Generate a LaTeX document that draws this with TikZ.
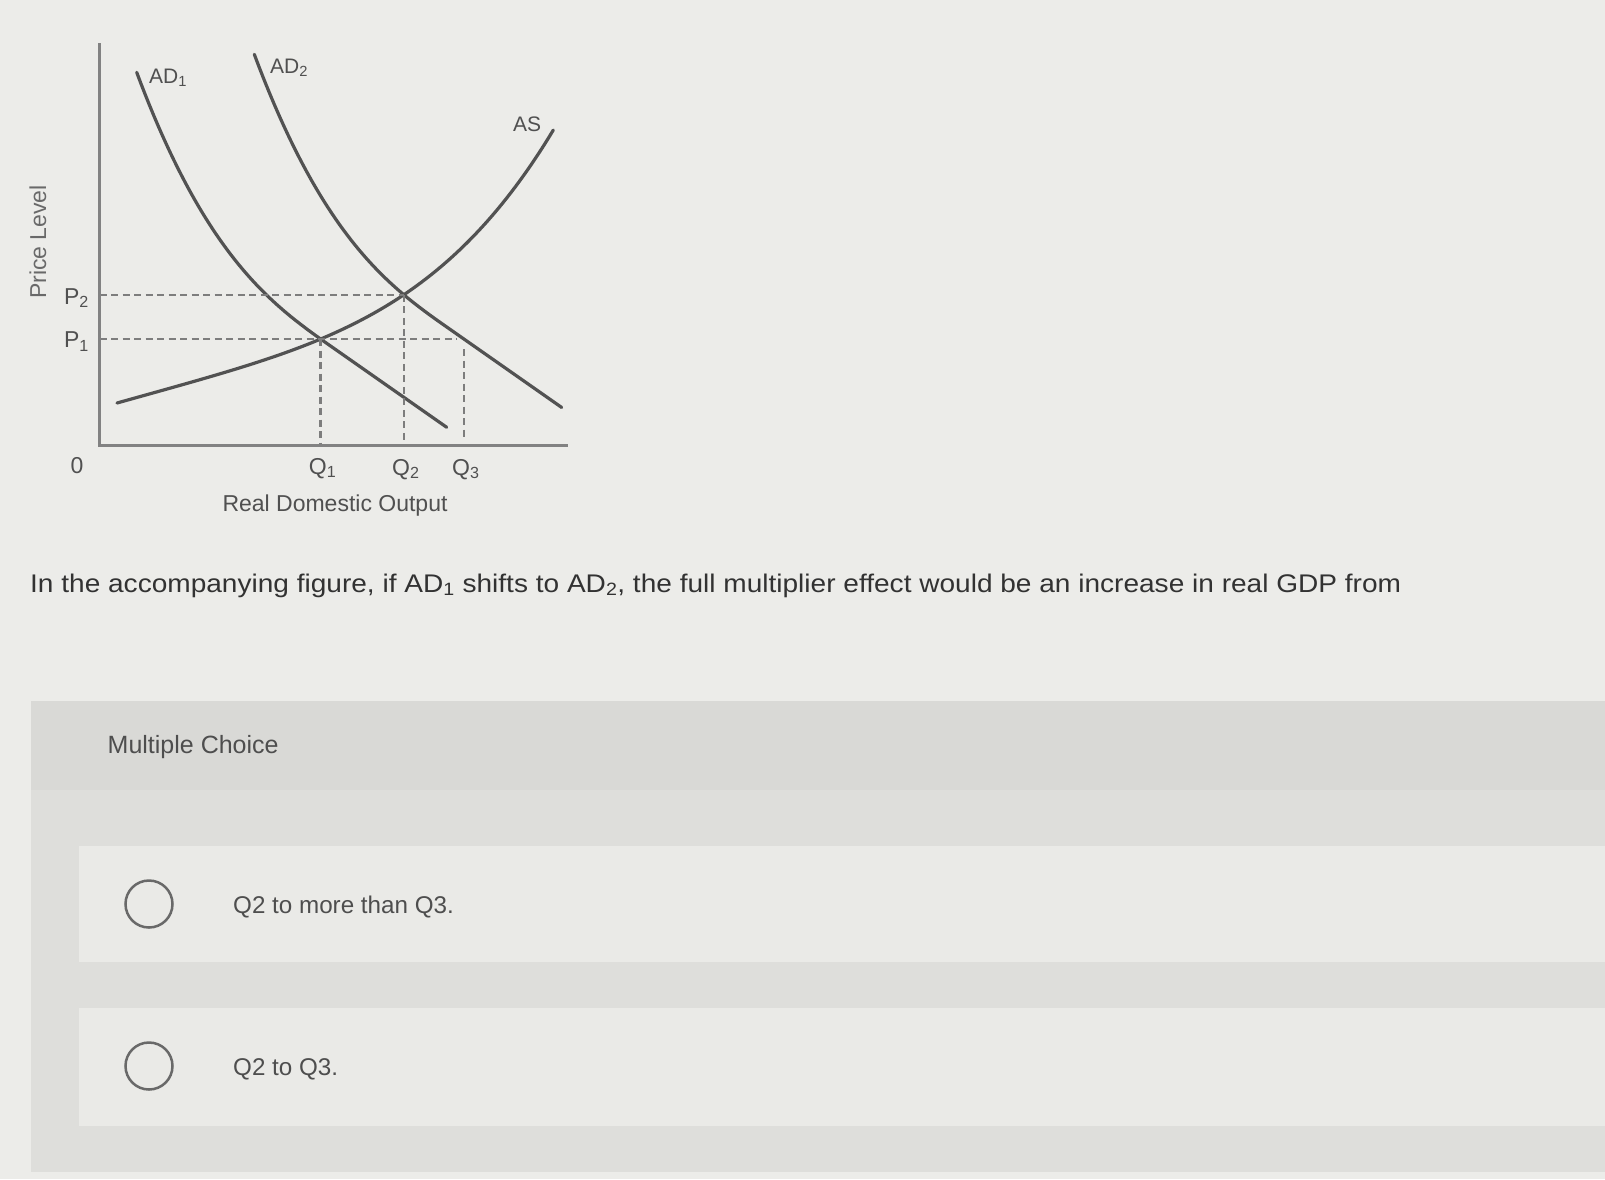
\documentclass[tikz,border=0pt]{standalone}
\usepackage{fontspec}
\setmainfont{Liberation Sans}
\newfontfamily\qfont[FakeStretch=1.10]{Liberation Sans}
\usetikzlibrary{intersections,calc}
\definecolor{bgc}{RGB}{236,236,233}
\definecolor{panelc}{RGB}{222,222,219}
\definecolor{panelt}{RGB}{217,217,214}
\definecolor{optc}{RGB}{234,234,231}
\definecolor{curvec}{RGB}{82,82,82}
\definecolor{axisc}{RGB}{130,130,130}
\definecolor{dashc}{RGB}{125,125,125}
\definecolor{textc}{RGB}{50,50,50}
\definecolor{labc}{RGB}{80,80,80}
\definecolor{plc}{RGB}{105,105,105}
\definecolor{optt}{RGB}{78,78,78}
\definecolor{radioc}{RGB}{105,105,105}
\begin{document}
\begin{tikzpicture}[x=1pt,y=-1pt,
  curve/.style={draw=curvec,line width=3.2pt,line cap=round},
  axisline/.style={draw=axisc,line width=3pt},
  guide/.style={draw=dashc,line width=2.4pt,dash pattern=on 7pt off 4.5pt},
  glab/.style={text=labc,font=\fontsize{23}{26}\selectfont,inner sep=0pt},
  curvelab/.style={text=labc,font=\fontsize{21}{24}\selectfont,inner sep=0pt,anchor=base west},
  qtext/.style={text=textc,font=\qfont\fontsize{25.5}{30}\selectfont,inner sep=0pt,anchor=base west},
  mctext/.style={text=optt,font=\fontsize{25}{30}\selectfont,inner sep=0pt,anchor=base west},
  opttext/.style={text=optt,font=\fontsize{24.2}{28}\selectfont,inner sep=0pt,anchor=base west},
  radio/.style={draw=radioc,circle,line width=2.5pt,minimum size=47pt,inner sep=0pt}]
\useasboundingbox (0,0) rectangle (1605,1179);
\fill[bgc] (0,0) rectangle (1605,1179);
% multiple choice panel
\fill[panelc] (31,701) rectangle (1605,1172);
\fill[panelt] (31,701) rectangle (1605,790);
\fill[optc] (79,846) rectangle (1605,962);
\fill[optc] (79,1008) rectangle (1605,1126);

% axes
\coordinate (O) at (99.5,445);
\coordinate (ytop) at (99.5,43);
\coordinate (xend) at (568,445);

% curves
\draw[curve,name path=ad1] plot[domain=136.7:446.7,samples=140,variable=\x]
  (\x,{72.3+0.70*(\x-136.7)+138*(1-max(1-(\x-136.7)/193.3,0.0001)^2.78)});
\draw[curve,name path=ad2,shift={(117.6,-18)}] plot[domain=136.7:444.1,samples=140,variable=\x]
  (\x,{72.3+0.70*(\x-136.7)+138*(1-max(1-(\x-136.7)/193.3,0.0001)^2.78)});
\draw[curve,name path=as] plot[domain=117:553.3,samples=140,variable=\x]
  (\x,{403-0.2789*(\x-117)-0.4175*((\x-117)/100)^4});

% equilibrium points
\path[name intersections={of=ad1 and as,by=E1}];
\path[name intersections={of=ad2 and as,by=E2}];
\path[name path=p1line] (O |- E1) -- ++(560,0);
\path[name intersections={of=p1line and ad2,by=E3}];

% dashed guides
\draw[guide] (O |- E2) -- (E2);
\draw[guide] (O |- E1) -- ($(E3)+(-7,0)$);
\draw[guide] (E1) -- (E1 |- O);
\draw[guide] (E2) -- (E2 |- O);
\draw[guide] ($(E3)+(0,10)$) -- ($(E3 |- O)+(0,-8)$);

\draw[axisline] (ytop) -- (O) -- (xend);

% curve labels
\node[curvelab] (ad1lab) at (149,83.5) {AD\textsubscript{1}};
\node[curvelab] (ad2lab) at (270,73.5) {AD\textsubscript{2}};
\node[curvelab] (aslab) at (513,131.7) {AS};

% axis labels
\node[glab,rotate=90,text=plc] (plev) at (38,242) {Price Level};
\node[glab,anchor=base] (p2) at ($(O |- E2)+(-23,9.5)$) {P\textsubscript{2}};
\node[glab,anchor=base] (p1) at ($(O |- E1)+(-23,8.5)$) {P\textsubscript{1}};
\node[glab,anchor=base] (zero) at (77,473) {0};
\node[glab,anchor=base] (q1) at ($(E1 |- O)+(2,29)$) {Q\textsubscript{1}};
\node[glab,anchor=base] (q2) at ($(E2 |- O)+(2,30)$) {Q\textsubscript{2}};
\node[glab,anchor=base] (q3) at ($(E3 |- O)+(2,30)$) {Q\textsubscript{3}};
\node[glab,anchor=base] (rdo) at (335,511) {Real Domestic Output};

% question
\node[qtext] (question) at (30,592) {In the accompanying figure, if AD\textsubscript{1} shifts to AD\textsubscript{2}, the full multiplier effect would be an increase in real GDP from};

\node[mctext] (mc) at (107.5,753) {Multiple Choice};

\node[radio] (r1) at (149,904) {};
\node[opttext] (o1) at (233,913.5) {Q2 to more than Q3.};
\node[radio] (r2) at (149,1066) {};
\node[opttext] (o2) at (233,1075.5) {Q2 to Q3.};
\end{tikzpicture}
\end{document}
